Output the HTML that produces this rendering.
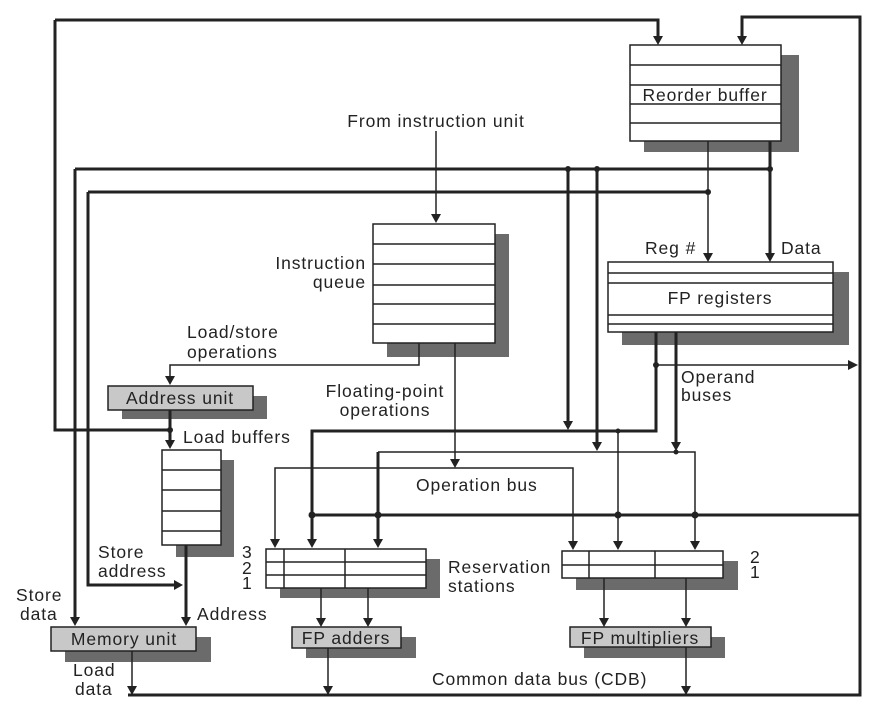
<!DOCTYPE html>
<html><head><meta charset="utf-8"><style>
html,body{margin:0;padding:0;background:#fff}
svg{display:block}
text{font-family:"Liberation Sans",Arial,sans-serif;font-size:17.5px;letter-spacing:0.9px;fill:#222}
</style></head><body>
<svg width="879" height="707" viewBox="0 0 879 707" xmlns="http://www.w3.org/2000/svg">
<g fill="#6b6b6b">
<rect x="644" y="55" width="155" height="97"/>
<rect x="387" y="234" width="122" height="123"/>
<rect x="622" y="272" width="227" height="73"/>
<rect x="122" y="396" width="145" height="23"/>
<rect x="176" y="460" width="58" height="97"/>
<rect x="65" y="637" width="146" height="25"/>
<rect x="280" y="559" width="160" height="39"/>
<rect x="576" y="561" width="162" height="29"/>
<rect x="306" y="637" width="110" height="21"/>
<rect x="584" y="637" width="141" height="21"/>
</g>
<g stroke="#222" fill="none">
<g stroke-width="3">
<path d="M55,20 H658 V38"/>
<path d="M55,20 V430 H170"/>
<path d="M742,38 V17 H860 V695 H128"/>
<path d="M860,515 H312"/>
<path d="M75,169 H770"/>
<path d="M75,169 V620"/>
<path d="M88,192 H708"/>
<path d="M88,192 V585 H176"/>
<path d="M770,141 V255"/>
<path d="M568,169 V423"/>
<path d="M597,169 V443"/>
<path d="M656,332 V431 H312 V540"/>
<path d="M676,332 V443"/>
<path d="M378,452 V540"/>
<path d="M170,410 V442"/>
<path d="M186,545 V618"/>
</g>
<g stroke-width="1.5">
<path d="M708,141 V255"/>
<path d="M436,131 V216"/>
<path d="M419,343 V365 H170 V378"/>
<path d="M455,343 V460"/>
<path d="M275,541 V468 H573 V542"/>
<path d="M378,452 H695 V542"/>
<path d="M618,431 V542"/>
<path d="M656,365 H850"/>
<path d="M321,588 V620"/><path d="M368,588 V620"/>
<path d="M604,578 V620"/><path d="M686,578 V620"/>
<path d="M328,648 V688"/><path d="M686,647 V688"/>
<path d="M132,651 V688"/>
</g>
</g>
<g fill="#222">
<path d="M653,36 h10 l-5,9 z"/><path d="M737,36 h10 l-5,9 z"/>
<path d="M703,253 h10 l-5,9 z"/><path d="M765,253 h10 l-5,9 z"/>
<path d="M431,214 h10 l-5,9 z"/>
<path d="M165,376 h10 l-5,9 z"/><path d="M165,440 h10 l-5,9 z"/>
<path d="M563,421 h10 l-5,9 z"/><path d="M592,442 h10 l-5,9 z"/><path d="M671,442 h10 l-5,9 z"/>
<path d="M450,459 h10 l-5,9 z"/>
<path d="M270,539 h10 l-5,9 z"/><path d="M307,539 h10 l-5,9 z"/><path d="M373,539 h10 l-5,9 z"/>
<path d="M568,541 h10 l-5,9 z"/><path d="M613,541 h10 l-5,9 z"/><path d="M690,541 h10 l-5,9 z"/>
<path d="M70,617 h10 l-5,9 z"/><path d="M181,617 h10 l-5,9 z"/>
<path d="M174,580 v10 l9,-5 z"/>
<path d="M848,360 v10 l10,-5 z"/>
<path d="M316,618 h10 l-5,9 z"/><path d="M363,618 h10 l-5,9 z"/>
<path d="M599,618 h10 l-5,9 z"/><path d="M681,618 h10 l-5,9 z"/>
<path d="M127,686 h10 l-5,9 z"/><path d="M323,686 h10 l-5,9 z"/><path d="M681,686 h10 l-5,9 z"/>
<circle cx="568" cy="169" r="3"/><circle cx="597" cy="169" r="3"/><circle cx="770" cy="169" r="3"/>
<circle cx="708" cy="192" r="3"/><circle cx="170" cy="430" r="3"/>
<circle cx="656" cy="365" r="3"/><circle cx="618" cy="431" r="2.5"/><circle cx="676" cy="452" r="2.5"/>
<circle cx="312" cy="515" r="3.5"/><circle cx="378" cy="515" r="3.5"/><circle cx="618" cy="515" r="3.5"/><circle cx="695" cy="515" r="3.5"/>
</g>
<g stroke="#222" stroke-width="1.5" fill="#fff">
<rect x="630" y="45" width="151" height="96"/>
<path d="M630,65 H781 M630,85 H781 M630,104 H781 M630,123 H781"/>
<rect x="373" y="224" width="122" height="119"/>
<path d="M373,244 H495 M373,264 H495 M373,285 H495 M373,304 H495 M373,324 H495"/>
<rect x="608" y="262" width="225" height="70"/>
<path d="M608,273 H833 M608,283 H833 M608,315 H833 M608,324 H833"/>
<rect x="162" y="450" width="59" height="95"/>
<path d="M162,470 H221 M162,490 H221 M162,511 H221 M162,531 H221"/>
<rect x="266" y="549" width="160" height="39"/>
<path d="M266,562 H426 M266,575 H426 M284,549 V588 M345,549 V588"/>
<rect x="562" y="551" width="161" height="27"/>
<path d="M562,565 H723 M589,551 V578 M655,551 V578"/>
</g>
<g stroke="#222" stroke-width="1.5" fill="#c8c8c8">
<rect x="108" y="386" width="145" height="24"/>
<rect x="51" y="627" width="145" height="24"/>
<rect x="292" y="627" width="109" height="21"/>
<rect x="570" y="627" width="141" height="20"/>
</g>
<text x="705" y="101" text-anchor="middle">Reorder buffer</text>
<text x="436" y="127" text-anchor="middle">From instruction unit</text>
<text x="366" y="269" text-anchor="end">Instruction</text>
<text x="366" y="288" text-anchor="end">queue</text>
<text x="720" y="304" text-anchor="middle">FP registers</text>
<text x="645" y="254">Reg #</text>
<text x="781" y="254">Data</text>
<text x="187" y="338">Load/store</text>
<text x="187" y="358">operations</text>
<text x="180" y="404" text-anchor="middle">Address unit</text>
<text x="385" y="397" text-anchor="middle">Floating-point</text>
<text x="385" y="416" text-anchor="middle">operations</text>
<text x="681" y="383">Operand</text>
<text x="681" y="401">buses</text>
<text x="183" y="443">Load buffers</text>
<text x="416" y="491">Operation bus</text>
<text x="98" y="558">Store</text>
<text x="98" y="577">address</text>
<text x="242" y="558">3</text><text x="242" y="574">2</text><text x="242" y="589">1</text>
<text x="448" y="573">Reservation</text>
<text x="448" y="592">stations</text>
<text x="750" y="563">2</text><text x="750" y="578">1</text>
<text x="16" y="601">Store</text>
<text x="20" y="620">data</text>
<text x="197" y="620">Address</text>
<text x="124" y="645" text-anchor="middle">Memory unit</text>
<text x="346" y="644" text-anchor="middle">FP adders</text>
<text x="640" y="644" text-anchor="middle">FP multipliers</text>
<text x="73" y="676">Load</text>
<text x="75" y="695">data</text>
<text x="432" y="685">Common data bus (CDB)</text>
</svg>
</body></html>
